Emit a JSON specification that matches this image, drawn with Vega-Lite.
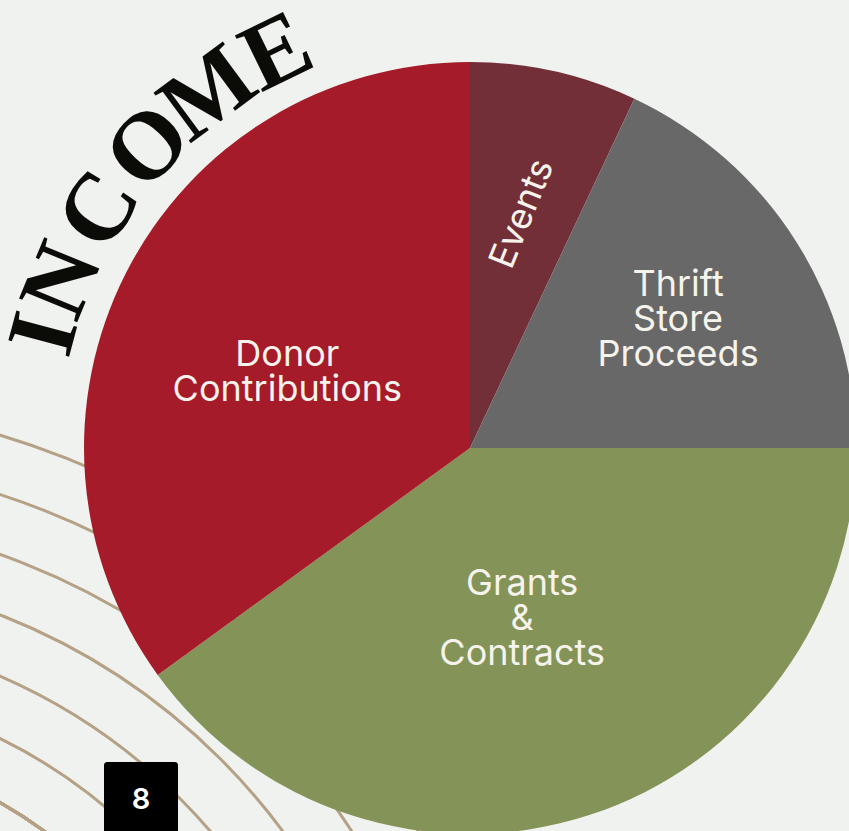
{
  "$schema": "https://vega.github.io/schema/vega-lite/v6.json",
  "width": 758,
  "height": 766,
  "autosize": {"type": "none"},
  "padding": {"left": 91, "top": 65, "right": 0, "bottom": 0},
  "background": "#F0F2EF",
  "config": {"view": {"stroke": null}, "text": {"font": "Inter", "fontSize": 36, "lineBreak": "\n", "lineHeight": 35, "color": "#F6F3EC", "align": "center", "baseline": "middle"}},
  "data": {
    "values": [
      {"k": 1, "source": "Events", "label": "Events", "value": 7},
      {"k": 2, "source": "Thrift Store Proceeds", "label": "Thrift\nStore\nProceeds", "value": 18},
      {"k": 3, "source": "Grants & Contracts", "label": "Grants\n&\nContracts", "value": 40},
      {"k": 4, "source": "Donor Contributions", "label": "Donor\nContributions", "value": 35}
    ]
  },
  "layer": [
    {
      "data": {"values": [{"ring": 0}, {"ring": 1}, {"ring": 2}, {"ring": 3}, {"ring": 4}, {"ring": 5}, {"ring": 6}]},
      "mark": {"type": "arc", "filled": false, "stroke": "#B5A185", "strokeWidth": 3, "theta": 0, "theta2": 6.2832},
      "encoding": {
        "x": {"value": -324},
        "y": {"value": 1147},
        "radius": {"field": "ring", "type": "quantitative", "stack": null, "scale": {"type": "linear", "zero": false, "domain": [0, 6], "range": [471, 811]}}
      }
    },
    {
      "mark": {"type": "arc", "outerRadius": 386},
      "encoding": {
        "theta": {"field": "value", "type": "quantitative", "stack": true},
        "order": {"field": "k", "type": "quantitative"},
        "color": {
          "field": "source",
          "type": "nominal",
          "scale": {
            "domain": ["Events", "Thrift Store Proceeds", "Grants & Contracts", "Donor Contributions"],
            "range": ["#722F37", "#686868", "#849357", "#A51B29"]
          },
          "legend": null
        }
      }
    },
    {
      "mark": {"type": "text", "radius": 240, "angle": 292},
      "encoding": {
        "theta": {"field": "value", "type": "quantitative", "stack": true},
        "order": {"field": "k", "type": "quantitative"},
        "detail": {"field": "source", "type": "nominal"},
        "text": {"condition": {"test": "datum.k == 1", "field": "label"}, "value": ""}
      }
    },
    {
      "mark": {"type": "text", "radius": 250, "dx": -3, "dy": -29},
      "encoding": {
        "theta": {"field": "value", "type": "quantitative", "stack": true},
        "order": {"field": "k", "type": "quantitative"},
        "detail": {"field": "source", "type": "nominal"},
        "text": {"condition": {"test": "datum.k == 2", "field": "label"}, "value": ""}
      }
    },
    {
      "mark": {"type": "text", "radius": 143, "dx": 8},
      "encoding": {
        "theta": {"field": "value", "type": "quantitative", "stack": true},
        "order": {"field": "k", "type": "quantitative"},
        "detail": {"field": "source", "type": "nominal"},
        "text": {"condition": {"test": "datum.k == 3", "field": "label"}, "value": ""}
      }
    },
    {
      "mark": {"type": "text", "radius": 205},
      "encoding": {
        "theta": {"field": "value", "type": "quantitative", "stack": true},
        "order": {"field": "k", "type": "quantitative"},
        "detail": {"field": "source", "type": "nominal"},
        "text": {"condition": {"test": "datum.k == 4", "field": "label"}, "value": ""}
      }
    },
    {
      "data": {"values": [{"i": 0, "ch": "I"}, {"i": 1, "ch": "N"}, {"i": 2, "ch": "C"}, {"i": 3, "ch": "O"}, {"i": 4, "ch": "M"}, {"i": 5, "ch": "E"}]},
      "mark": {"type": "text", "font": "Liberation Serif", "fontWeight": "bold", "fontSize": 96, "color": "#0B0B08", "radius": 440, "align": "center", "baseline": "middle"},
      "encoding": {
        "theta": {"field": "i", "type": "quantitative", "stack": null, "scale": {"type": "linear", "domain": [0, 1, 5], "range": [-1.309, -1.1816, -0.4538]}},
        "angle": {"field": "i", "type": "quantitative", "scale": {"type": "linear", "domain": [0, 1, 5], "range": [285, 292.3, 334]}},
        "text": {"field": "ch"}
      }
    },
    {
      "data": {"values": [{"page": "8"}]},
      "mark": {"type": "rect", "x": 13, "x2": 87, "y": 697, "y2": 790, "color": "#000000", "cornerRadius": 3},
      "encoding": {}
    },
    {
      "data": {"values": [{"page": "8"}]},
      "mark": {"type": "text", "x": 50, "y": 735, "font": "Inter", "fontSize": 29, "fontWeight": 600, "color": "#FFFFFF", "align": "center", "baseline": "middle"},
      "encoding": {"text": {"field": "page"}}
    }
  ],
  "resolve": {"scale": {"theta": "independent", "radius": "independent", "angle": "independent"}}
}
